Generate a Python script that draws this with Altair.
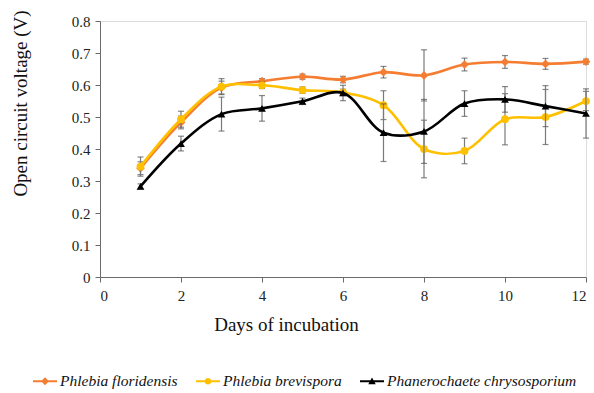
import altair as alt
import pandas as pd

days = [1, 2, 3, 4, 5, 6, 7, 8, 9, 10, 11, 12]
series_names = ["Phlebia floridensis", "Phlebia brevispora", "Phanerochaete chrysosporium"]
floridensis = [0.340, 0.483, 0.592, 0.612, 0.626, 0.617, 0.640, 0.630, 0.664, 0.672, 0.666, 0.673]
brevispora = [0.345, 0.493, 0.595, 0.599, 0.584, 0.577, 0.537, 0.400, 0.394, 0.493, 0.500, 0.550]
chrysosporium = [0.283, 0.417, 0.509, 0.527, 0.549, 0.575, 0.451, 0.455, 0.542, 0.555, 0.534, 0.511]
floridensis_err = [0.020, 0.020, 0.020, 0.008, 0.008, 0.010, 0.018, 0.080, 0.020, 0.020, 0.017, 0.008]
brevispora_err = [0.030, 0.025, 0.025, 0.010, 0.010, 0.010, 0.045, 0.090, 0.040, 0.080, 0.086, 0.030]
chrysosporium_err = [0.008, 0.023, 0.053, 0.040, 0.010, 0.024, 0.090, 0.100, 0.040, 0.040, 0.064, 0.077]
x_ticks = [0, 2, 4, 6, 8, 10, 12]
y_ticks = [0, 0.1, 0.2, 0.3, 0.4, 0.5, 0.6, 0.7, 0.8]

colors = ["#F47D32", "#FFC000", "#000000"]
shapes = ["diamond", "circle", "triangle-up"]
sizes = [75, 60, 60]

# legend symbols: line segment + marker (custom paths in unit box)
legend_paths = [
    "M-1,-0.08 L1,-0.08 L1,0.08 L-1,0.08 Z M0,-0.33 L0.33,0 L0,0.33 L-0.33,0 Z",
    "M-1,-0.08 L1,-0.08 L1,0.08 L-1,0.08 Z M0.28,0 A0.28,0.28 0 1,1 -0.28,0 A0.28,0.28 0 1,1 0.28,0 Z",
    "M-1,-0.08 L1,-0.08 L1,0.08 L-1,0.08 Z M0,-0.31 L0.31,0.26 L-0.31,0.26 Z",
]

values = [floridensis, brevispora, chrysosporium]
errs = [floridensis_err, brevispora_err, chrysosporium_err]

rows = []
for name, vals, ers in zip(series_names, values, errs):
    for d, v, e in zip(days, vals, ers):
        rows.append({"day": d, "series": name, "v": v, "lo": v - e, "hi": v + e})
df = pd.DataFrame(rows)

FONT = "Liberation Serif"
xscale = alt.Scale(domain=[0, 12], nice=False)
yscale = alt.Scale(domain=[0, 0.8], nice=False)

common = dict(labelFont=FONT, labelFontSize=15, labelColor="#222",
              titleFont=FONT, titleFontSize=19, titleFontWeight="normal", titleColor="#111",
              domainColor="#6b6b6b", tickColor="#6b6b6b", tickSize=5, grid=False)
x_axis = alt.Axis(
    values=x_ticks, format="d", title="Days of incubation", labelPadding=6,
    titleX=186, titleY=47, titleBaseline="middle", titleAlign="center", **common)
y_axis = alt.Axis(
    values=y_ticks, format="~g", labelPadding=5,
    title="Open circuit voltage (V)", titleX=-80, titleY=82, titleAngle=-90,
    titleBaseline="middle", titleAlign="center", **common)


def X():
    return alt.X("day:Q", scale=xscale, axis=x_axis)


def Y(field):
    return alt.Y(field, scale=yscale, axis=y_axis)


layers = []
for name, col, shp, sz in zip(series_names, colors, shapes, sizes):
    base = alt.Chart(df).transform_filter(alt.datum.series == name)
    rule = base.mark_rule(color="#7a7a7a", strokeWidth=1.2).encode(
        x=X(), y=Y("lo:Q"), y2="hi:Q")
    tlo = base.mark_tick(color="#555", orient="horizontal", size=6, thickness=1.2).encode(
        x=X(), y=Y("lo:Q"))
    thi = base.mark_tick(color="#555", orient="horizontal", size=6, thickness=1.2).encode(
        x=X(), y=Y("hi:Q"))
    line = base.mark_line(color=col, strokeWidth=2.6, interpolate="catmull-rom").encode(
        x=X(), y=Y("v:Q"))
    pts = base.mark_point(color=col, shape=shp, filled=True, opacity=1, size=sz).encode(
        x=X(), y=Y("v:Q"))
    layers += [rule, tlo, thi, line, pts]

legend_layer = alt.Chart(df).transform_filter("false").mark_point(filled=True, opacity=1).encode(
    x=X(),
    y=Y("v:Q"),
    color=alt.Color("series:N", scale=alt.Scale(domain=series_names, range=colors),
                    legend=alt.Legend(
                        orient="none", legendX=-67, legendY=348, direction="horizontal",
                        title=None, symbolSize=576, symbolStrokeWidth=0, symbolOpacity=1,
                        labelFont=FONT, labelFontStyle="italic", labelFontSize=15.5,
                        labelColor="#111", labelOffset=3, columnPadding=18, labelLimit=400)),
    shape=alt.Shape("series:N", scale=alt.Scale(domain=series_names, range=legend_paths)),
)
layers.append(legend_layer)

chart = alt.layer(*layers).properties(
    width=486, height=256,
    autosize=alt.AutoSizeParams(type="none"),
    padding={"left": 100, "top": 21, "right": 8, "bottom": 116},
    background="white",
).configure_view(stroke=None).configure(font=FONT)

chart.save("out.html", embed_options={"renderer": "svg", "actions": False})
